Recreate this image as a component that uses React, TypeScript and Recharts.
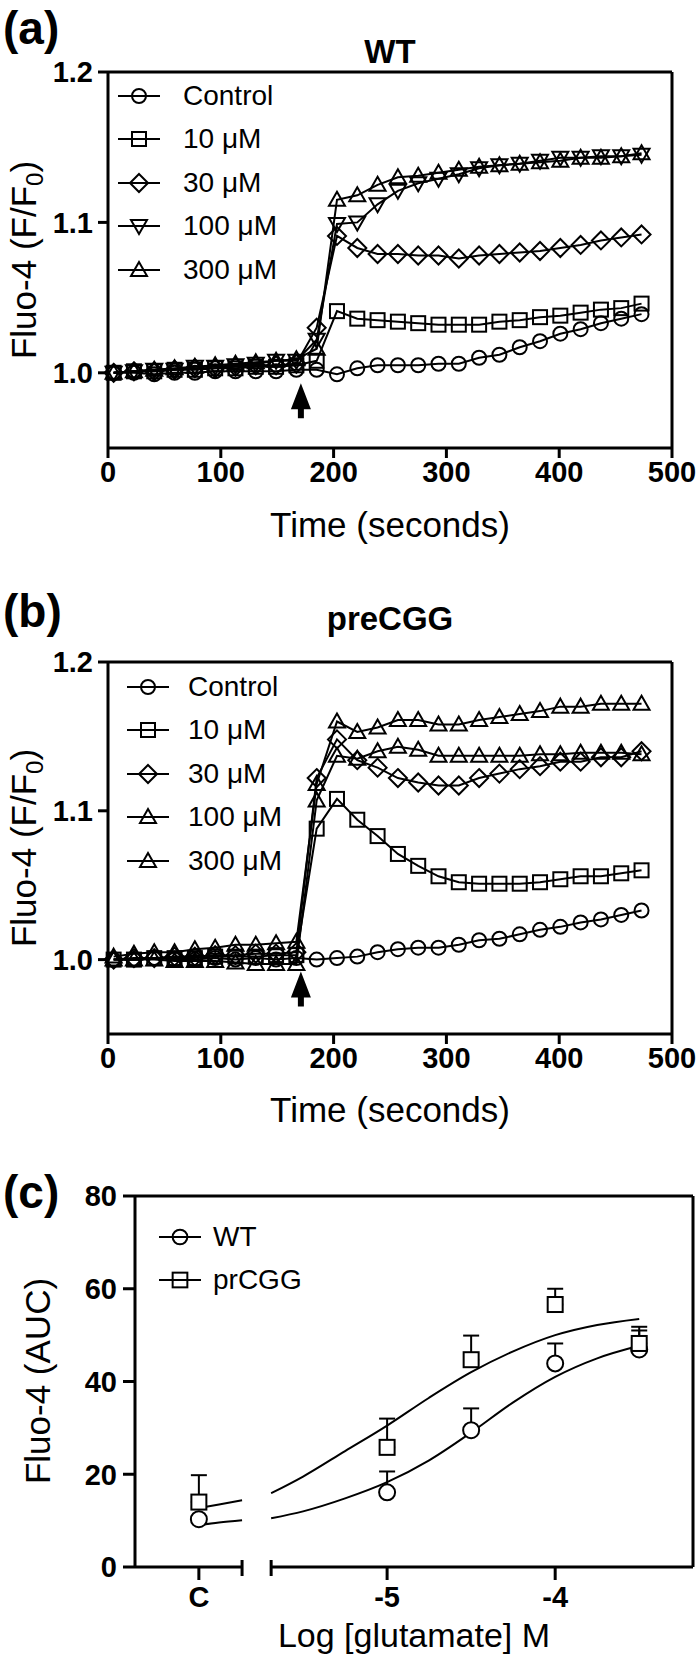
import React from "react";
import {
  LineChart,
  ComposedChart,
  Line,
  Scatter,
  XAxis,
  YAxis,
  ReferenceLine,
  ReferenceDot,
  ErrorBar,
  Legend,
} from "recharts";

const FONT = '"Liberation Sans", Arial, Helvetica, sans-serif';

// sampling times (s)
const times = [5, 23, 41, 59, 77, 95, 113, 131, 149, 167, 185, 203, 221, 239, 257, 275, 293, 311, 329, 347, 365, 383, 401, 419, 437, 455, 473];
const timeTicks = [0, 100, 200, 300, 400, 500];
const ratioTicks = [1.0, 1.1, 1.2];

// (a) WT, Fluo-4 F/F0
const wtControl = [1.0, 1.0, 0.999, 1.0, 1.0, 1.001, 1.001, 1.001, 1.001, 1.002, 1.002, 0.999, 1.003, 1.005, 1.005, 1.005, 1.006, 1.006, 1.01, 1.012, 1.017, 1.021, 1.026, 1.029, 1.033, 1.036, 1.039];
const wt10 = [1.0, 1.001, 1.001, 1.002, 1.002, 1.003, 1.003, 1.004, 1.004, 1.005, 1.008, 1.041, 1.036, 1.035, 1.034, 1.033, 1.032, 1.032, 1.032, 1.034, 1.035, 1.037, 1.038, 1.04, 1.042, 1.043, 1.046];
const wt30 = [1.0, 1.001, 1.001, 1.002, 1.003, 1.003, 1.004, 1.005, 1.005, 1.006, 1.03, 1.091, 1.083, 1.079, 1.079, 1.078, 1.078, 1.076, 1.078, 1.079, 1.08, 1.081, 1.083, 1.085, 1.088, 1.09, 1.092];
const wt100 = [1.0, 1.001, 1.002, 1.002, 1.004, 1.004, 1.005, 1.006, 1.008, 1.008, 1.022, 1.099, 1.1, 1.112, 1.121, 1.126, 1.129, 1.132, 1.136, 1.138, 1.139, 1.141, 1.143, 1.143, 1.144, 1.144, 1.145];
const wt300 = [1.0, 1.001, 1.002, 1.003, 1.004, 1.005, 1.006, 1.007, 1.008, 1.009, 1.016, 1.115, 1.118, 1.125, 1.13, 1.131, 1.133, 1.135, 1.137, 1.138, 1.139, 1.14, 1.141, 1.143, 1.143, 1.144, 1.146];

// (b) preCGG
const cgControl = [1.0, 1.0, 1.001, 1.0, 1.0, 1.001, 1.0, 1.001, 1.0, 1.001, 1.0, 1.001, 1.002, 1.005, 1.007, 1.008, 1.008, 1.01, 1.013, 1.014, 1.017, 1.02, 1.022, 1.025, 1.027, 1.03, 1.033];
const cg10 = [1.0, 1.0, 1.001, 1.001, 1.001, 1.002, 1.002, 1.002, 1.003, 1.003, 1.088, 1.108, 1.094, 1.083, 1.071, 1.063, 1.056, 1.052, 1.051, 1.051, 1.051, 1.052, 1.054, 1.056, 1.056, 1.058, 1.06];
const cg30 = [1.0, 1.001, 1.001, 1.002, 1.002, 1.003, 1.003, 1.004, 1.004, 1.005, 1.122, 1.148, 1.134, 1.129, 1.122, 1.119, 1.117, 1.117, 1.122, 1.125, 1.128, 1.13, 1.133, 1.133, 1.136, 1.136, 1.14];
const cg100 = [1.0, 1.0, 1.0, 0.999, 0.999, 0.999, 0.998, 0.997, 0.997, 0.997, 1.107, 1.137, 1.135, 1.14, 1.143, 1.141, 1.137, 1.137, 1.137, 1.137, 1.137, 1.138, 1.138, 1.139, 1.139, 1.139, 1.138];
const cg300 = [1.002, 1.004, 1.005, 1.005, 1.007, 1.008, 1.01, 1.01, 1.011, 1.012, 1.118, 1.16, 1.153, 1.156, 1.161, 1.161, 1.158, 1.158, 1.161, 1.163, 1.165, 1.167, 1.17, 1.17, 1.172, 1.172, 1.172];

// (c) AUC vs log[glutamate]; -6.12 is the "C" slot left of the axis break
const doseX = [-6.12, -5, -4.5, -4, -3.5];
const doseTicks = [-6.12, -5, -4];
const wtAUC = [10.3, 16.1, 29.5, 43.9, 46.9];
const wtErr = [0, 4.5, 4.7, 4.3, 4.1];
const cgAUC = [14.0, 25.8, 44.7, 56.6, 48.2];
const cgErr = [5.8, 6.2, 5.2, 3.4, 3.6];
// fitted curves
const fitX = [-5.69, -5.5, -5.25, -5.0, -4.75, -4.5, -4.25, -4.0, -3.75, -3.5];
const wtFit = [10.5, 12.0, 14.8, 18.3, 23.0, 29.0, 35.5, 41.0, 45.0, 47.7];
const cgFit = [15.9, 19.5, 25.0, 30.5, 36.5, 42.0, 46.5, 50.0, 52.2, 53.5];
const fitXC = [-6.12, -6.0, -5.863];
const wtFitC = [9.0, 9.6, 10.1];
const cgFitC = [12.7, 13.5, 14.4];

const concLabels = ["Control", "10 \u03bcM", "30 \u03bcM", "100 \u03bcM", "300 \u03bcM"];

function mark(shape: string, cx: number, cy: number, key?: any, fill = "none", s = 1) {
  const st = { stroke: "#000", strokeWidth: 2, fill };
  if (cx == null || cy == null) return <g key={key} />;
  switch (shape) {
    case "circle":
      return <circle key={key} cx={cx} cy={cy} r={7 * s} {...st} />;
    case "square":
      return <rect key={key} x={cx - 7 * s} y={cy - 7 * s} width={14 * s} height={14 * s} {...st} />;
    case "diamond":
      return <path key={key} d={`M${cx} ${cy - 9 * s}L${cx + 9 * s} ${cy}L${cx} ${cy + 9 * s}L${cx - 9 * s} ${cy}Z`} {...st} />;
    case "up":
      return <path key={key} d={`M${cx} ${cy - 8 * s}L${cx + 8 * s} ${cy + 6 * s}L${cx - 8 * s} ${cy + 6 * s}Z`} {...st} />;
    default:
      return <path key={key} d={`M${cx} ${cy + 8 * s}L${cx + 8 * s} ${cy - 6 * s}L${cx - 8 * s} ${cy - 6 * s}Z`} {...st} />;
  }
}

function Arrow(props: any) {
  const { cx, cy } = props;
  return (
    <path
      d={`M${cx} ${cy}L${cx + 10} ${cy + 26}L${cx + 3} ${cy + 26}L${cx + 3} ${cy + 35}L${cx - 3} ${cy + 35}L${cx - 3} ${cy + 26}L${cx - 10} ${cy + 26}Z`}
      fill="#000"
    />
  );
}

function LegendBox({ items, textGap, s = 1 }: any) {
  return (
    <div style={{ fontFamily: FONT, fontSize: 28, color: "#000" }}>
      {items.map((it: any) => (
        <div key={it.label} style={{ display: "flex", alignItems: "center", height: 43.5 }}>
          <svg width={textGap} height={30} style={{ flex: "none" }}>
            <line x1={0} y1={15} x2={42} y2={15} stroke="#000" strokeWidth={2} />
            {mark(it.shape, 21, 15, undefined, "none", s)}
          </svg>
          <span style={{ whiteSpace: "nowrap" }}>{it.label}</span>
        </div>
      ))}
    </div>
  );
}

const tickStyle = { fill: "#000", fontSize: 29, fontWeight: 700, fontFamily: FONT };
const axisStroke = { stroke: "#000", strokeWidth: 3 };

function TimePanel({ top, height, vals, legendLeft, legendTop, textGap, arrowY }: any) {
  const keys = ["c", "m10", "m30", "m100", "m300"];
  const shapes = vals.shapes;
  const rows = times.map((t, i) => {
    const r: any = { t };
    keys.forEach((k, j) => (r[k] = vals.series[j][i]));
    return r;
  });
  const items = keys.map((k, j) => ({ key: k, label: concLabels[j], shape: shapes[j] }));
  return (
    <div style={{ position: "absolute", left: 0, top }}>
      <LineChart width={700} height={height} data={rows} margin={{ top: 72, right: 28, bottom: 72, left: 0 }}>
        <XAxis
          dataKey="t"
          type="number"
          domain={[0, 500]}
          ticks={timeTicks}
          height={40}
          tick={tickStyle}
          tickSize={10}
          tickMargin={3}
          axisLine={axisStroke}
          tickLine={axisStroke}
        />
        <YAxis
          type="number"
          domain={[0.95, 1.2]}
          ticks={ratioTicks}
          allowDataOverflow
          width={108}
          tick={tickStyle}
          tickSize={10}
          tickMargin={5}
          tickFormatter={(v: number) => v.toFixed(1)}
          axisLine={axisStroke}
          tickLine={axisStroke}
        />
        <ReferenceLine y={1.2} stroke="#000" strokeWidth={3} />
        <ReferenceLine x={500} stroke="#000" strokeWidth={3} />
        {items.map((it) => (
          <Line
            key={it.key}
            dataKey={it.key}
            type="linear"
            stroke="#000"
            strokeWidth={2}
            dot={(p: any) => mark(it.shape, p.cx, p.cy, `${it.key}-${p.index}`)}
            activeDot={false}
            isAnimationActive={false}
          />
        ))}
        <ReferenceDot x={171} y={arrowY} shape={(p: any) => <Arrow {...p} />} />
        <Legend
          layout="vertical"
          align="center"
          verticalAlign="middle"
          wrapperStyle={{ left: legendLeft, top: legendTop, width: "auto", height: "auto" }}
          content={() => <LegendBox items={items} textGap={textGap} />}
        />
      </LineChart>
    </div>
  );
}

function DosePanel() {
  const wtPts = doseX.map((x, i) => ({ x, y: wtAUC[i], err: [0, wtErr[i]] }));
  const cgPts = doseX.map((x, i) => ({ x, y: cgAUC[i], err: [0, cgErr[i]] }));
  const wtCurve = fitX.map((x, i) => ({ x, y: wtFit[i] }));
  const cgCurve = fitX.map((x, i) => ({ x, y: cgFit[i] }));
  const wtCurveC = fitXC.map((x, i) => ({ x, y: wtFitC[i] }));
  const cgCurveC = fitXC.map((x, i) => ({ x, y: cgFitC[i] }));
  const items = [
    { label: "WT", shape: "circle" },
    { label: "prCGG", shape: "square" },
  ];
  const cap = (p: any) => (
    <line x1={p.cx} y1={p.cy - 7} x2={p.cx} y2={p.cy + 9} stroke="#000" strokeWidth={3} />
  );
  return (
    <div style={{ position: "absolute", left: 0, top: 1130 }}>
      <ComposedChart width={700} height={530} margin={{ top: 66, right: 7, bottom: 53, left: 0 }}>
        <XAxis
          dataKey="x"
          type="number"
          domain={[-6.5, -3.18]}
          allowDataOverflow
          ticks={doseTicks}
          height={40}
          tick={tickStyle}
          tickSize={13}
          tickMargin={6}
          tickFormatter={(v: number) => (v < -6 ? "C" : String(v))}
          axisLine={false}
          tickLine={axisStroke}
        />
        <YAxis
          type="number"
          domain={[0, 80]}
          ticks={[0, 20, 40, 60, 80]}
          width={135}
          tick={tickStyle}
          tickSize={12}
          tickMargin={6}
          axisLine={axisStroke}
          tickLine={axisStroke}
        />
        <ReferenceLine y={80} stroke="#000" strokeWidth={3} />
        <ReferenceLine x={-3.18} stroke="#000" strokeWidth={3} />
        <ReferenceLine segment={[{ x: -6.5, y: 0 }, { x: -5.863, y: 0 }]} stroke="#000" strokeWidth={3} />
        <ReferenceLine segment={[{ x: -5.69, y: 0 }, { x: -3.18, y: 0 }]} stroke="#000" strokeWidth={3} />
        <ReferenceDot x={-5.863} y={0} shape={cap} />
        <ReferenceDot x={-5.69} y={0} shape={cap} />
        <Scatter data={wtPts} dataKey="y" shape={() => <g />} isAnimationActive={false}>
          <ErrorBar dataKey="err" direction="y" width={8} stroke="#000" strokeWidth={2} />
        </Scatter>
        <Scatter data={cgPts} dataKey="y" shape={() => <g />} isAnimationActive={false}>
          <ErrorBar dataKey="err" direction="y" width={8} stroke="#000" strokeWidth={2} />
        </Scatter>
        <Scatter data={wtPts} dataKey="y" shape={(p: any) => mark("circle", p.cx, p.cy, undefined, "#fff", 8 / 7)} isAnimationActive={false} />
        <Scatter data={cgPts} dataKey="y" shape={(p: any) => mark("square", p.cx, p.cy, undefined, "#fff", 15 / 14)} isAnimationActive={false} />
        <Line data={wtCurve} dataKey="y" type="monotone" stroke="#000" strokeWidth={2} dot={false} activeDot={false} isAnimationActive={false} />
        <Line data={cgCurve} dataKey="y" type="monotone" stroke="#000" strokeWidth={2} dot={false} activeDot={false} isAnimationActive={false} />
        <Line data={wtCurveC} dataKey="y" type="monotone" stroke="#000" strokeWidth={2} dot={false} activeDot={false} isAnimationActive={false} />
        <Line data={cgCurveC} dataKey="y" type="monotone" stroke="#000" strokeWidth={2} dot={false} activeDot={false} isAnimationActive={false} />
        <Legend
          layout="vertical"
          align="center"
          verticalAlign="middle"
          wrapperStyle={{ left: 159, top: 85, width: "auto", height: "auto" }}
          content={() => <LegendBox items={items} textGap={54} s={1.05} />}
        />
      </ComposedChart>
    </div>
  );
}

export default function App() {
  const wtVals = {
    series: [wtControl, wt10, wt30, wt100, wt300],
    shapes: ["circle", "square", "diamond", "down", "up"],
  };
  const cgVals = {
    series: [cgControl, cg10, cg30, cg100, cg300],
    shapes: ["circle", "square", "diamond", "up", "up"],
  };
  const label = { fontFamily: FONT, fill: "#000" };
  return (
    <div style={{ position: "absolute", left: 0, top: 0, width: 700, height: 1660, background: "#fff" }}>
      <TimePanel top={0} height={560} vals={wtVals} legendLeft={118} legendTop={74} textGap={65} arrowY={0.993} />
      <TimePanel top={590} height={556} vals={cgVals} legendLeft={127} legendTop={75} textGap={61} arrowY={0.992} />
      <DosePanel />
      <svg width={700} height={1660} style={{ position: "absolute", left: 0, top: 0, pointerEvents: "none" }}>
        <text x={3} y={44} fontSize={46} fontWeight={700} {...label}>(a)</text>
        <text x={390} y={63} fontSize={33} fontWeight={700} textAnchor="middle" {...label}>WT</text>
        <text x={390} y={537} fontSize={35} textAnchor="middle" {...label}>Time (seconds)</text>
        <text transform="translate(36 260) rotate(-90)" fontSize={35} textAnchor="middle" {...label}>
          Fluo-4 (F/F<tspan fontSize={24} dy={7}>0</tspan><tspan dy={-7}>)</tspan>
        </text>

        <text x={3} y={627} fontSize={46} fontWeight={700} {...label}>(b)</text>
        <text x={390} y={630} fontSize={33} fontWeight={700} textAnchor="middle" {...label}>preCGG</text>
        <text x={390} y={1122} fontSize={35} textAnchor="middle" {...label}>Time (seconds)</text>
        <text transform="translate(36 848) rotate(-90)" fontSize={35} textAnchor="middle" {...label}>
          Fluo-4 (F/F<tspan fontSize={24} dy={7}>0</tspan><tspan dy={-7}>)</tspan>
        </text>

        <text x={3} y={1208} fontSize={46} fontWeight={700} {...label}>(c)</text>
        <text x={414} y={1647} fontSize={34} textAnchor="middle" {...label}>Log [glutamate] M</text>
        <text transform="translate(50 1381) rotate(-90)" fontSize={35} textAnchor="middle" {...label}>Fluo-4 (AUC)</text>
      </svg>
    </div>
  );
}
